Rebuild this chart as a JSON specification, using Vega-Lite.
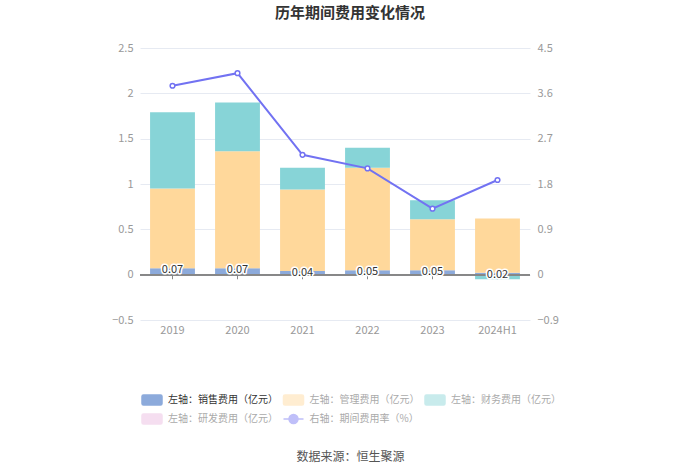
{
  "$schema": "https://vega.github.io/schema/vega-lite/v6.json",
  "width": 390,
  "height": 272,
  "autosize": {"type": "none"},
  "padding": {"left": 140, "top": 48, "right": 170, "bottom": 153},
  "background": "white",
  "title": {
    "text": "历年期间费用变化情况",
    "font": "Noto Sans CJK SC",
    "fontSize": 15,
    "fontWeight": "bold",
    "color": "#333",
    "anchor": "middle",
    "dx": 15,
    "offset": 21
  },
  "datasets": {
    "fees": [
      {"year": "2019", "series": "左轴：销售费用（亿元）", "value": 0.07},
      {"year": "2019", "series": "左轴：管理费用（亿元）", "value": 0.88},
      {"year": "2019", "series": "左轴：财务费用（亿元）", "value": 0.84},
      {"year": "2020", "series": "左轴：销售费用（亿元）", "value": 0.07},
      {"year": "2020", "series": "左轴：管理费用（亿元）", "value": 1.29},
      {"year": "2020", "series": "左轴：财务费用（亿元）", "value": 0.54},
      {"year": "2021", "series": "左轴：销售费用（亿元）", "value": 0.04},
      {"year": "2021", "series": "左轴：管理费用（亿元）", "value": 0.9},
      {"year": "2021", "series": "左轴：财务费用（亿元）", "value": 0.24},
      {"year": "2022", "series": "左轴：销售费用（亿元）", "value": 0.05},
      {"year": "2022", "series": "左轴：管理费用（亿元）", "value": 1.13},
      {"year": "2022", "series": "左轴：财务费用（亿元）", "value": 0.22},
      {"year": "2023", "series": "左轴：销售费用（亿元）", "value": 0.05},
      {"year": "2023", "series": "左轴：管理费用（亿元）", "value": 0.56},
      {"year": "2023", "series": "左轴：财务费用（亿元）", "value": 0.21},
      {"year": "2024H1", "series": "左轴：销售费用（亿元）", "value": 0.02},
      {"year": "2024H1", "series": "左轴：管理费用（亿元）", "value": 0.6},
      {"year": "2024H1", "series": "左轴：财务费用（亿元）", "value": -0.05}
    ],
    "rate": [
      {"year": "2019", "series": "右轴：期间费用率（%）", "value": 3.75},
      {"year": "2020", "series": "右轴：期间费用率（%）", "value": 4.0},
      {"year": "2021", "series": "右轴：期间费用率（%）", "value": 2.38},
      {"year": "2022", "series": "右轴：期间费用率（%）", "value": 2.11},
      {"year": "2023", "series": "右轴：期间费用率（%）", "value": 1.31},
      {"year": "2024H1", "series": "右轴：期间费用率（%）", "value": 1.88}
    ]
  },
  "encoding": {
    "x": {
      "field": "year",
      "type": "ordinal",
      "sort": ["2019", "2020", "2021", "2022", "2023", "2024H1"],
      "scale": {"paddingInner": 0.31, "paddingOuter": 0.155},
      "axis": {
        "title": "数据来源：恒生聚源",
        "titleFont": "Noto Sans CJK SC",
        "titleFontSize": 12,
        "titleFontWeight": "normal",
        "titleColor": "#555",
        "titlePadding": 116,
        "titleX": 210,
        "labelAngle": 0,
        "labelColor": "#999",
        "labelFontSize": 11,
        "labelPadding": 4,
        "domain": false,
        "ticks": false,
        "grid": false
      }
    }
  },
  "layer": [
    {
      "data": {"name": "fees"},
      "encoding": {
        "y": {
          "type": "quantitative",
          "scale": {"domain": [-0.5, 2.5], "nice": false, "zero": false},
          "axis": {
            "title": null,
            "values": [-0.5, 0, 0.5, 1, 1.5, 2, 2.5],
            "format": ".2~f",
            "labelColor": "#999",
            "labelFontSize": 11,
            "labelPadding": 7,
            "domain": false,
            "ticks": false,
            "grid": true,
            "gridColor": "#E6EAF2",
            "orient": "left"
          }
        }
      },
      "layer": [
        {
          "transform": [{"filter": "datum.series === '左轴：销售费用（亿元）'"}],
          "mark": {"type": "tick", "orient": "vertical", "size": 9, "thickness": 1, "color": "#888", "opacity": 1},
          "encoding": {"y": {"datum": 0}}
        },
        {
          "transform": [
            {"calculate": "indexof(['左轴：销售费用（亿元）', '左轴：管理费用（亿元）', '左轴：财务费用（亿元）'], datum.series)", "as": "k"}
          ],
          "mark": {"type": "bar"},
          "encoding": {
            "y": {"field": "value", "type": "quantitative", "stack": "zero"},
            "color": {
              "field": "series",
              "type": "nominal",
              "scale": {
                "domain": ["左轴：销售费用（亿元）", "左轴：管理费用（亿元）", "左轴：财务费用（亿元）", "左轴：研发费用（亿元）", "右轴：期间费用率（%）"],
                "range": ["#8CAADB", "#FFD89B", "#87D4D7", "#EAB8DE", "#7272F2"]
              },
              "legend": {
                "orient": "none",
                "legendX": 1,
                "legendY": 341,
                "columns": 3,
                "direction": "horizontal",
                "title": null,
                "padding": 0,
                "labelFont": "Noto Sans CJK SC",
                "labelFontSize": 10,
                "labelColor": {"expr": "datum.value === '左轴：销售费用（亿元）' ? '#333' : '#aaa'"},
                "labelOffset": 5,
                "columnPadding": 2.5,
                "rowPadding": 0,
                "symbolSize": 400,
                "symbolStrokeWidth": 1.5,
                "symbolType": {"expr": "datum.value === '右轴：期间费用率（%）' ? 'M-1,0L-0.45,0M0.45,0L1,0M-0.45,0A0.45,0.45 0 1,1 0.45,0A0.45,0.45 0 1,1 -0.45,0' : 'M-0.85,-0.5L0.85,-0.5Q1,-0.5 1,-0.35L1,0.35Q1,0.5 0.85,0.5L-0.85,0.5Q-1,0.5 -1,0.35L-1,-0.35Q-1,-0.5 -0.85,-0.5Z'"},
                "symbolFillColor": {"expr": "datum.value === '右轴：期间费用率（%）' ? 'white' : scale('color', datum.value)"},
                "symbolStrokeColor": {"expr": "datum.value === '右轴：期间费用率（%）' ? scale('color', datum.value) : 'transparent'"},
                "symbolOpacity": {"expr": "datum.value === '左轴：销售费用（亿元）' ? 1 : 0.45"}
              }
            },
            "order": {"field": "k", "type": "quantitative", "sort": "ascending"}
          }
        },
        {
          "mark": {"type": "rule", "color": "#888", "strokeWidth": 1},
          "encoding": {"y": {"datum": 0}, "x": null}
        },
        {
          "transform": [{"filter": "datum.series === '左轴：销售费用（亿元）'"}],
          "mark": {"type": "text", "fontSize": 11, "baseline": "middle", "dy": 2, "stroke": "white", "strokeWidth": 3, "strokeJoin": "round"},
          "encoding": {"y": {"field": "value", "type": "quantitative"}, "text": {"field": "value", "type": "quantitative", "format": ".2f"}}
        },
        {
          "transform": [{"filter": "datum.series === '左轴：销售费用（亿元）'"}],
          "mark": {"type": "text", "fontSize": 11, "baseline": "middle", "dy": 2, "color": "#333"},
          "encoding": {"y": {"field": "value", "type": "quantitative"}, "text": {"field": "value", "type": "quantitative", "format": ".2f"}}
        }
      ]
    },
    {
      "data": {"name": "rate"},
      "encoding": {
        "y": {
          "field": "value",
          "type": "quantitative",
          "scale": {"domain": [-0.9, 4.5], "nice": false, "zero": false},
          "axis": {
            "title": null,
            "orient": "right",
            "values": [-0.9, 0, 0.9, 1.8, 2.7, 3.6, 4.5],
            "format": ".2~f",
            "labelColor": "#999",
            "labelFontSize": 11,
            "labelPadding": 7,
            "domain": false,
            "ticks": false,
            "grid": false
          }
        }
      },
      "layer": [
        {"mark": {"type": "line", "strokeWidth": 2}, "encoding": {"color": {"field": "series", "type": "nominal"}}},
        {"mark": {"type": "point", "filled": false, "fill": "white", "stroke": "#7272F2", "size": 22, "strokeWidth": 1.5, "opacity": 1}}
      ]
    }
  ],
  "resolve": {"scale": {"y": "independent"}},
  "config": {
    "font": "Noto Sans CJK SC",
    "view": {"stroke": null}
  }
}
